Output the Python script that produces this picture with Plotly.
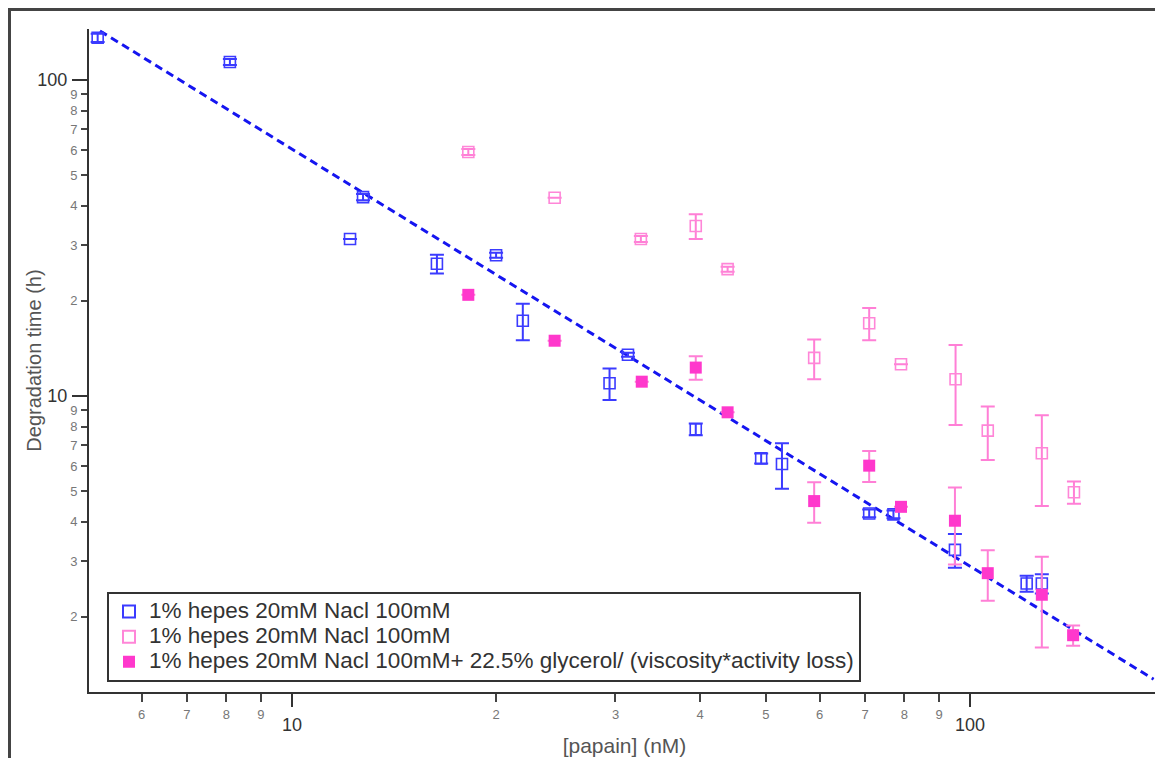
import numpy as np
import plotly.graph_objects as go

# ---------------- data ----------------
blue_x = [5.17, 8.10, 12.18, 12.73, 16.36, 20.0, 21.9, 29.4, 31.3, 39.4, 49.2, 52.8, 71.0, 77.1, 95.0, 121.2, 127.6]
blue_y = [136, 114, 31.4, 42.6, 26.2, 27.9, 17.3, 10.97, 13.5, 7.85, 6.35, 6.09, 4.25, 4.22, 3.26, 2.55, 2.55]
blue_err = [4, 2.5, 0, 1.0, 1.8, 0.5, 2.3, 1.25, 0.2, 0.34, 0.23, 1.0, 0.12, 0.12, 0.4, 0.15, 0.18]

pink_x = [18.2, 24.4, 32.7, 39.4, 43.9, 58.9, 71.0, 79.1, 95.2, 106.2, 127.6, 142.3]
pink_y = [59.2, 42.4, 31.4, 34.5, 25.2, 13.2, 17.0, 12.6, 11.3, 7.77, 6.59, 4.96]
pink_err = [1.3, 0, 0.7, 3.1, 0.46, 1.9, 2.0, 0, 3.2, 1.5, 2.1, 0.4]

glyc_x = [18.2, 24.4, 32.8, 39.4, 43.9, 58.9, 71.0, 79.1, 95.0, 106.2, 127.6, 141.9]
glyc_y = [20.9, 14.96, 11.1, 12.3, 8.88, 4.65, 6.02, 4.46, 4.03, 2.75, 2.35, 1.75]
glyc_err = [0, 0, 0, 1.05, 0, 0.68, 0.68, 0, 1.1, 0.5, 0.75, 0.13]

fit_x = [5.21, 186.5]
fit_y = [143.0, 1.27]

series_names = [
    "1% hepes 20mM Nacl 100mM",
    "1% hepes 20mM Nacl 100mM",
    "1% hepes 20mM Nacl 100mM+ 22.5% glycerol/ (viscosity*activity loss)",
]

x_range = [5.02, 190.6]
y_range = [1.157, 145.0]

x_minor_vals = [6, 7, 8, 9, 20, 30, 40, 50, 60, 70, 80, 90]
x_minor_text = ["6", "7", "8", "9", "2", "3", "4", "5", "6", "7", "8", "9"]
y_minor_vals = [2, 3, 4, 5, 6, 7, 8, 9, 20, 30, 40, 50, 60, 70, 80, 90]
y_minor_text = ["2", "3", "4", "5", "6", "7", "8", "9", "2", "3", "4", "5", "6", "7", "8", "9"]
major_vals = [10, 100]
major_text = ["10", "100"]

# ---------------- style ----------------
FONT = "Liberation Sans, Arial, Helvetica, sans-serif"
BLUE = "#3b3bff"
PINK_OPEN = "#ff86d8"
PINK_FILL = "#ff38cc"
PINK_ERR = "#ff7fd6"
LINE_BLUE = "#1515f0"

# the page body has an 8px margin; the figure is sized/offset to compensate
OFF = 8
W, H = 1163 - OFF, 758 - OFF
PL, PT, PR, PB = 89, 29, 1160, 692  # plot area in window pixels
PW, PH = PR - PL, PB - PT


def leg(name):
    return '<span style="font-size:22.5px">' + name + "</span>"


fig = go.Figure()

fig.add_trace(go.Scatter(
    x=fit_x, y=fit_y, mode="lines", showlegend=False, hoverinfo="skip",
    line=dict(color=LINE_BLUE, width=3, dash="8px,5px"),
))

fig.add_trace(go.Scatter(
    x=blue_x, y=blue_y, mode="markers", name=leg(series_names[0]),
    marker=dict(symbol="square-open", size=11, color=BLUE, line=dict(width=1.6, color=BLUE)),
    error_y=dict(type="data", array=blue_err, visible=True, color=BLUE, thickness=2, width=7),
))
fig.add_trace(go.Scatter(
    x=pink_x, y=pink_y, mode="markers", name=leg(series_names[1]),
    marker=dict(symbol="square-open", size=11, color=PINK_OPEN, line=dict(width=1.6, color=PINK_OPEN)),
    error_y=dict(type="data", array=pink_err, visible=True, color=PINK_ERR, thickness=2, width=7),
))
fig.add_trace(go.Scatter(
    x=glyc_x, y=glyc_y, mode="markers", name=leg(series_names[2]),
    marker=dict(symbol="square", size=12, color=PINK_FILL, line=dict(width=0)),
    error_y=dict(type="data", array=glyc_err, visible=True, color=PINK_ERR, thickness=2, width=7),
))

xr = [np.log10(x_range[0]), np.log10(x_range[1])]
yr = [np.log10(y_range[0]), np.log10(y_range[1])]

fig.update_layout(
    width=W, height=H,
    margin=dict(l=PL - OFF, r=W - (PR - OFF), t=PT - OFF, b=H - (PB - OFF)),
    paper_bgcolor="white", plot_bgcolor="white",
    font=dict(family=FONT, color="#333"),
    showlegend=True,
    legend=dict(
        x=(107 - PL) / PW, y=(PB - 592) / PH, xanchor="left", yanchor="top",
        bgcolor="white", bordercolor="#333", borderwidth=2,
        font=dict(size=17, family=FONT, color="#333"),
        itemsizing="constant",
    ),
    xaxis=dict(
        type="log", range=xr, showgrid=False, zeroline=False,
        showline=True, linecolor="#333", linewidth=2,
        ticks="outside", ticklen=8, tickwidth=2, tickcolor="#444",
        tickvals=x_minor_vals, ticktext=x_minor_text,
        tickfont=dict(size=13, color="#777", family=FONT),
        ticklabelstandoff=1,
        title=dict(text="[papain] (nM)", font=dict(size=21, color="#555", family=FONT), standoff=18),
    ),
    xaxis2=dict(
        type="log", range=xr, overlaying="x", anchor="y", side="bottom",
        showgrid=False, zeroline=False, showline=False,
        ticks="outside", ticklen=14, tickwidth=2, tickcolor="#333",
        tickvals=major_vals, ticktext=major_text,
        tickfont=dict(size=18, color="#333", family=FONT),
        ticklabelstandoff=2,
    ),
    yaxis=dict(
        type="log", range=yr, showgrid=False, zeroline=False,
        showline=True, linecolor="#333", linewidth=2,
        ticks="outside", ticklen=6, tickwidth=2, tickcolor="#444",
        tickvals=y_minor_vals, ticktext=y_minor_text,
        tickfont=dict(size=13, color="#777", family=FONT),
        ticklabelstandoff=1,
        title=dict(text="Degradation time (h)", font=dict(size=20, color="#555", family=FONT), standoff=23),
    ),
    yaxis2=dict(
        type="log", range=yr, overlaying="y", anchor="x", side="left",
        showgrid=False, zeroline=False, showline=False,
        ticks="outside", ticklen=16, tickwidth=2, tickcolor="#333",
        tickvals=major_vals, ticktext=major_text,
        tickfont=dict(size=18, color="#333", family=FONT),
        ticklabelstandoff=1,
    ),
    shapes=[dict(
        type="rect", xref="paper", yref="paper",
        x0=(9.5 - PL) / PW, x1=(1180 - PL) / PW,
        y0=(PB - 9.5) / PH, y1=(PB - 780) / PH,
        line=dict(color="#444", width=3), fillcolor="rgba(0,0,0,0)", layer="below",
    )],
)

# empty traces so the overlay axes are registered as subplots
fig.add_trace(go.Scatter(x=[], y=[], xaxis="x2", yaxis="y2", showlegend=False, hoverinfo="skip"))

fig.write_html("out.html")
